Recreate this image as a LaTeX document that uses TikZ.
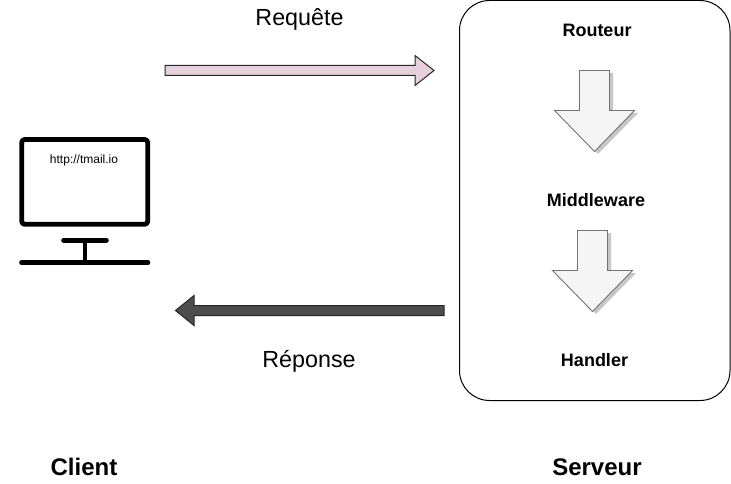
\documentclass[tikz,border=0pt]{standalone}
\usepackage{fontspec}
\setmainfont{Liberation Sans}
\definecolor{pinkfill}{HTML}{E6D0DE}
\definecolor{darkfill}{HTML}{4D4D4D}
\definecolor{lightfill}{HTML}{F5F5F5}
\tikzset{
  x=1pt,y=-1pt,
  biglabel/.style={font=\fontsize{23.3}{26}\selectfont,inner sep=0pt,anchor=base},
  steplabel/.style={font=\fontsize{18}{20}\selectfont\bfseries,inner sep=0pt,anchor=base},
  rolelabel/.style={font=\fontsize{24}{28}\selectfont\bfseries,inner sep=0pt,anchor=base},
  monitorline/.style={draw=black,line width=4.8pt,line join=round,line cap=round},
  downarrow/.style={draw=black!55,fill=lightfill,line width=0.9pt,line join=miter},
  shadowshape/.style={fill=black!22,draw=none}
}
\newcommand{\downshape}[2]{% x centre, y top
  (#1-15,#2) -- (#1+15,#2) -- (#1+15,#2+40) -- (#1+40,#2+40) -- (#1,#2+81) -- (#1-40,#2+40) -- (#1-15,#2+40) -- cycle}
\begin{document}
\begin{tikzpicture}
\useasboundingbox (0,0) rectangle (731,484);
\fill[white] (0,0) rectangle (731,484);
% server box
\draw[black,line width=1pt,rounded corners=30pt] (459.5,0.5) rectangle (730,400.5);
% request arrow
\draw[draw=black!85,fill=pinkfill,line width=1pt,line join=miter]
  (165,65.5) -- (415,65.5) -- (415,55.5) -- (434,70.5) -- (415,85.5) -- (415,75.5) -- (165,75.5) -- cycle;
% response arrow
\draw[draw=black!85,fill=darkfill,line width=1pt,line join=miter]
  (444,305.5) -- (194,305.5) -- (194,295.5) -- (175.5,310.5) -- (194,325.5) -- (194,315.5) -- (444,315.5) -- cycle;
% down arrows
\fill[shadowshape] \downshape{598}{73};
\draw[downarrow] \downshape{594.5}{70.5};
\fill[shadowshape] \downshape{596}{233};
\draw[downarrow] \downshape{592.5}{230.5};
% monitor
\draw[monitorline,rounded corners=3pt] (21.7,139.5) rectangle (147.7,224.3);
\draw[monitorline,line width=4.6pt] (63.5,240.3) -- (106.5,240.3);
\draw[monitorline,line width=4.4pt,line cap=butt] (85,240) -- (85,262);
\draw[monitorline,line width=4.6pt] (21.5,262.5) -- (148,262.5);
% labels
\node[font=\fontsize{12}{14}\selectfont,inner sep=0pt,anchor=base] (url) at (84,164) {http://tmail.io};
\node[biglabel] (req) at (299.5,26) {Requête};
\node[biglabel] (rep) at (309,367) {Réponse};
\node[steplabel] (rout) at (597,37) {Routeur};
\node[steplabel] (mid) at (596,206) {Middleware};
\node[steplabel] (hand) at (594.5,366) {Handler};
\node[rolelabel] (cli) at (84,475) {Client};
\node[rolelabel] (srv) at (597,475) {Serveur};
\end{tikzpicture}
\end{document}
